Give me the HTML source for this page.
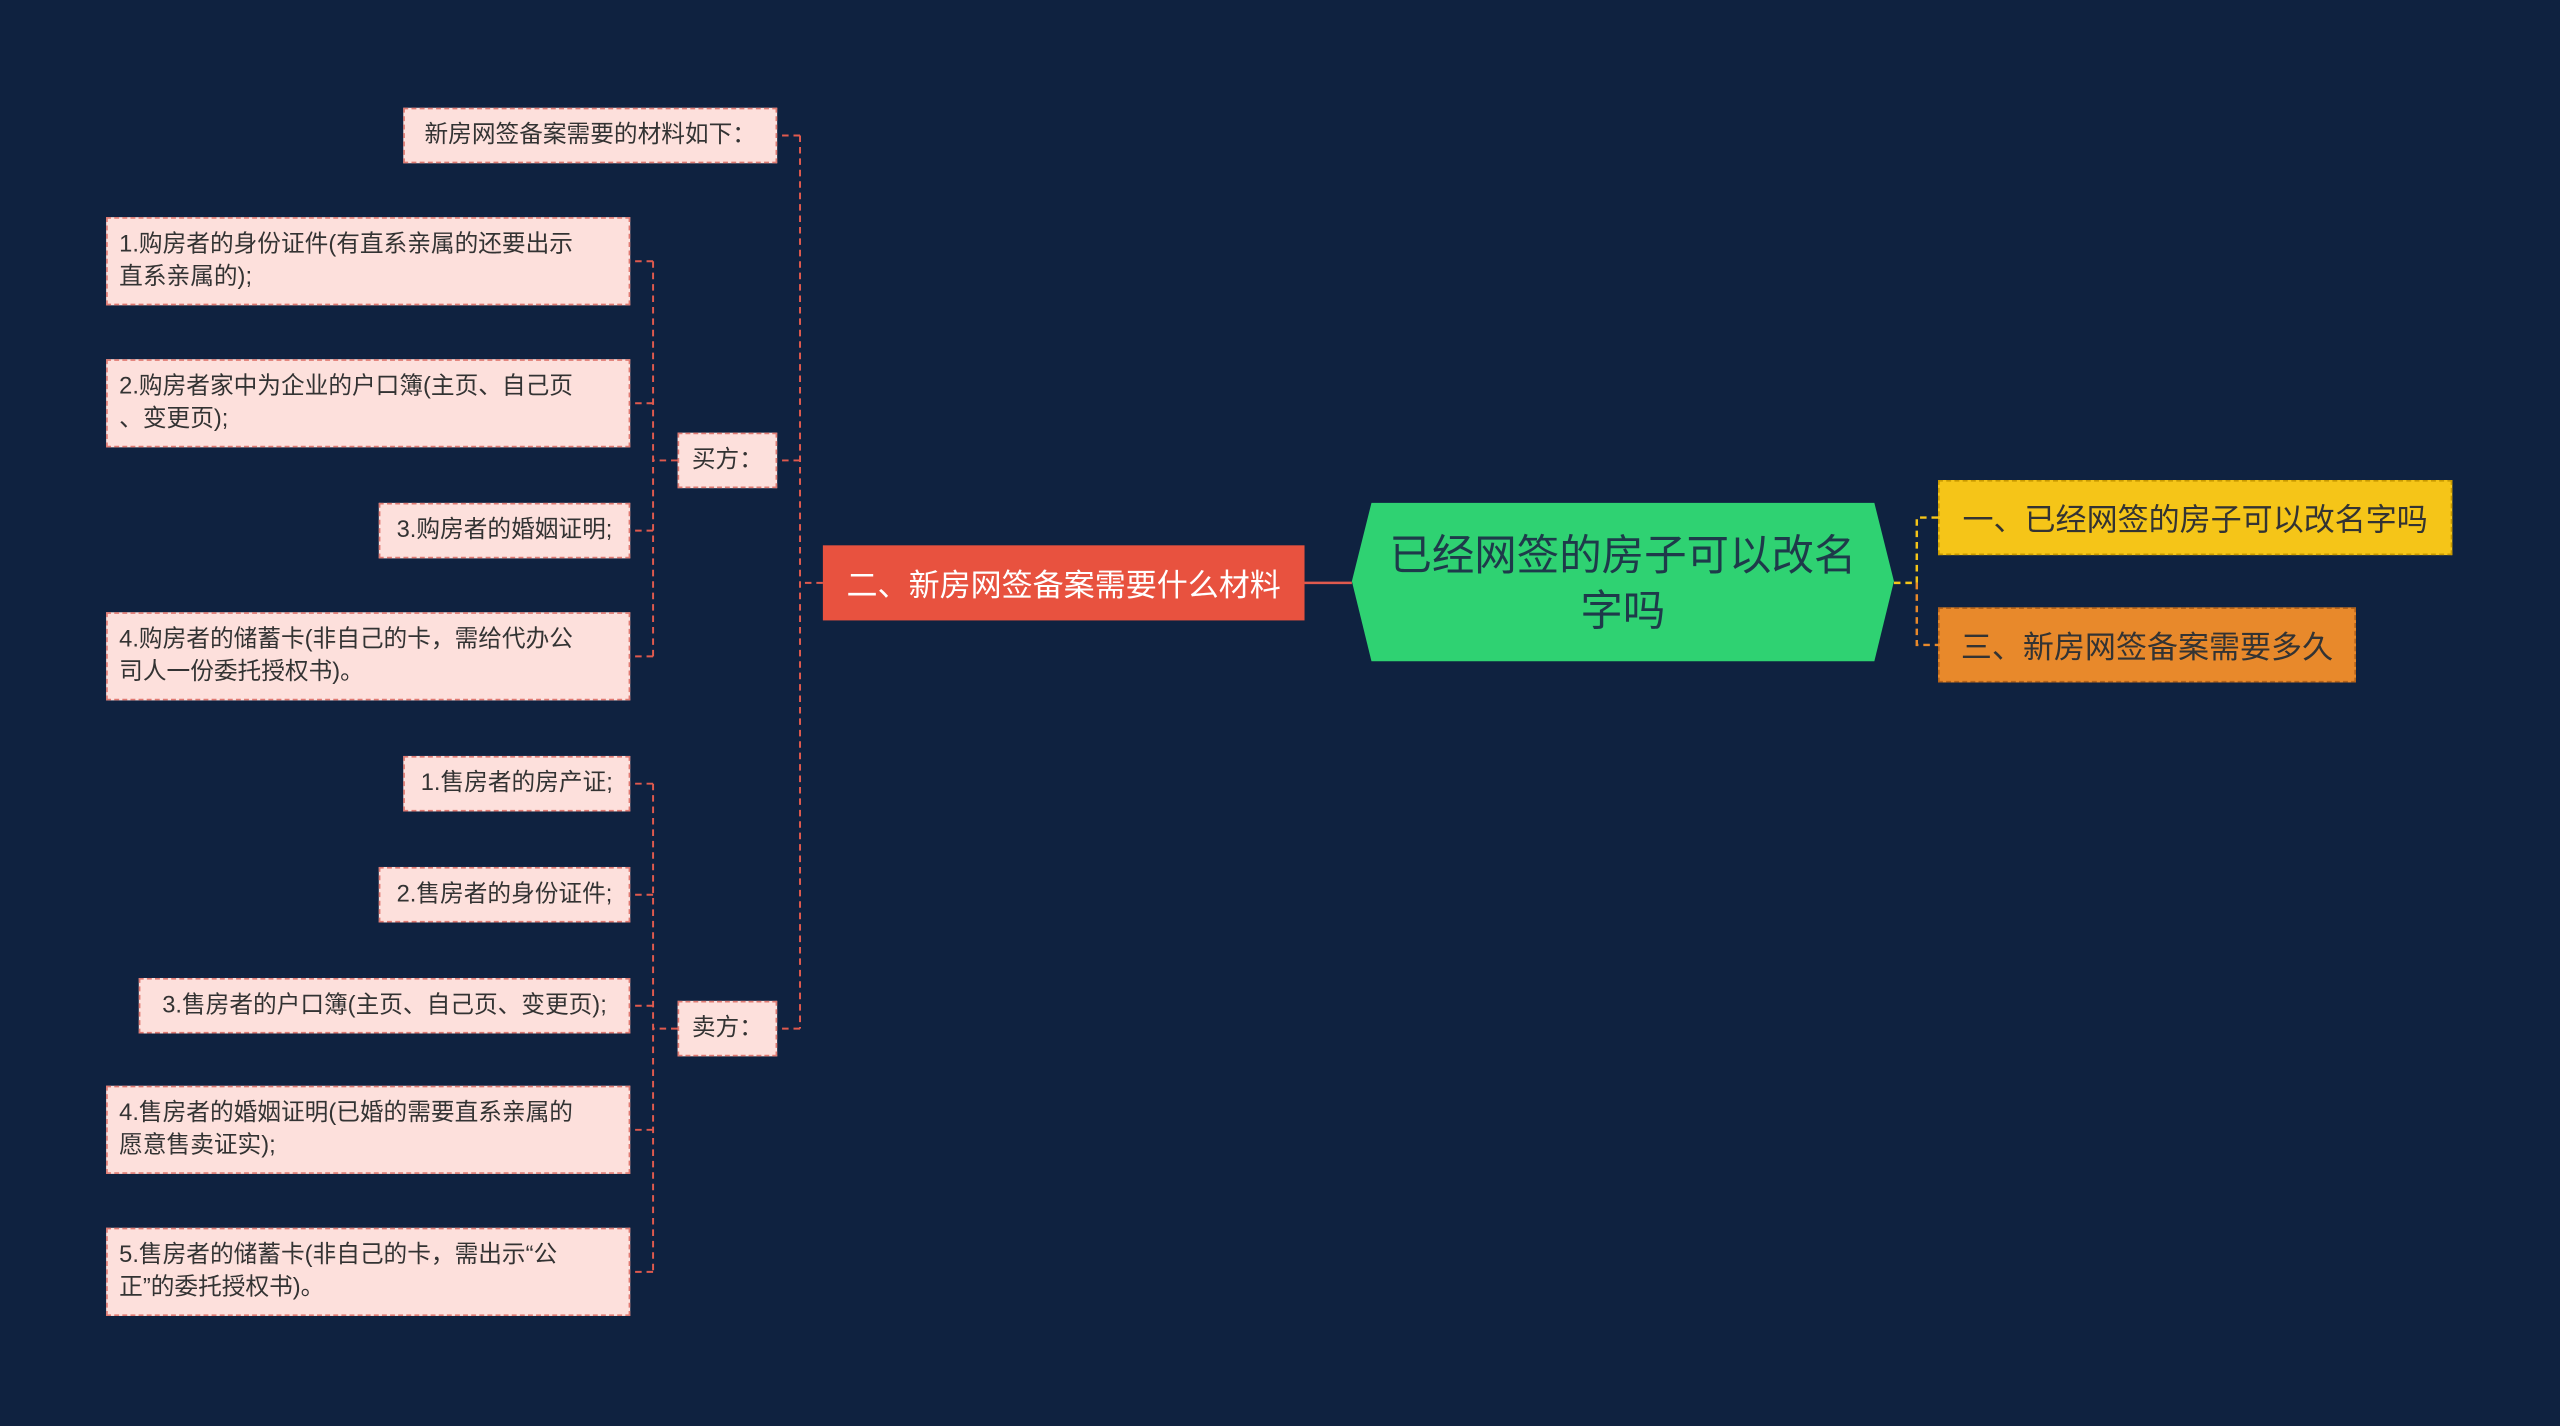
<!DOCTYPE html>
<html><head><meta charset="utf-8">
<style>
html,body{margin:0;padding:0;background:#0f2240;width:2560px;height:1426px;overflow:hidden;}
#w{position:absolute;left:0;top:0;width:1568px;height:873px;transform:scale(1.6327);transform-origin:0 0;font-family:"Liberation Sans","Noto Sans CJK SC",sans-serif;}
.n{position:absolute;box-sizing:border-box;display:flex;align-items:center;white-space:nowrap;}
.p{background:#fde0dc;border:1px dashed #e07a72;color:#333;font-size:14.5px;line-height:20px;padding:0 7px;}
.r{justify-content:center;}
</style></head><body><div id="w">
<svg width="1568" height="873" style="position:absolute;left:0;top:0">
<g fill="none" stroke="#e05a4e" stroke-width="1.2" stroke-dasharray="4,3">
<path d="M504 357H490M490 83V630M490 83H476M490 282H476M490 630H476"/>
<path d="M415 282H400M400 160V402M400 160H386M400 247H386M400 325H386M400 402H386"/>
<path d="M415 630H400M400 480V779M400 480H386M400 548H386M400 616H386M400 692H386M400 779H386"/>
</g>
<path d="M799 357H828" stroke="#e05a4e" stroke-width="1.5"/>
<g fill="none" stroke-width="1.5" stroke-dasharray="4,3">
<path d="M1160 357H1174M1174 357V317H1187" stroke="#f5c518"/>
<path d="M1174 357V395H1187" stroke="#e8892b"/>
</g>
<polygon points="840,308 1148,308 1160,356 1148,405 840,405 828,356" fill="#2fd272"/>
</svg>
<div class="n" style="left:840px;top:308px;width:308px;height:97px;justify-content:center;text-align:center;font-size:26px;line-height:34px;color:#1e3a4a;white-space:normal;">已经网签的房子可以改名<br>字吗</div>
<div class="n" style="left:1187px;top:294px;width:315px;height:46px;background:#f5c518;border:1px dashed #c99a00;font-size:19px;color:#333;justify-content:center;">一、已经网签的房子可以改名字吗</div>
<div class="n" style="left:1187px;top:372px;width:256px;height:46px;background:#e8892b;border:1px dashed #b5631a;font-size:19px;color:#333;justify-content:center;">三、新房网签备案需要多久</div>
<div class="n" style="left:504px;top:334px;width:295px;height:46px;background:#e8523f;font-size:19px;color:#fff;justify-content:center;">二、新房网签备案需要什么材料</div>
<div class="n p r" style="left:247px;top:66px;width:229px;height:34px;">新房网签备案需要的材料如下：</div>
<div class="n p r" style="left:415px;top:265px;width:61px;height:34px;">买方：</div>
<div class="n p r" style="left:415px;top:613px;width:61px;height:34px;">卖方：</div>
<div class="n p" style="left:65px;top:133px;width:321px;height:54px;">1.购房者的身份证件(有直系亲属的还要出示<br>直系亲属的);</div>
<div class="n p" style="left:65px;top:220px;width:321px;height:54px;">2.购房者家中为企业的户口簿(主页、自己页<br>、变更页);</div>
<div class="n p r" style="left:232px;top:308px;width:154px;height:34px;">3.购房者的婚姻证明;</div>
<div class="n p" style="left:65px;top:375px;width:321px;height:54px;">4.购房者的储蓄卡(非自己的卡，需给代办公<br>司人一份委托授权书)。</div>
<div class="n p r" style="left:247px;top:463px;width:139px;height:34px;">1.售房者的房产证;</div>
<div class="n p r" style="left:232px;top:531px;width:154px;height:34px;">2.售房者的身份证件;</div>
<div class="n p r" style="left:85px;top:599px;width:301px;height:34px;">3.售房者的户口簿(主页、自己页、变更页);</div>
<div class="n p" style="left:65px;top:665px;width:321px;height:54px;">4.售房者的婚姻证明(已婚的需要直系亲属的<br>愿意售卖证实);</div>
<div class="n p" style="left:65px;top:752px;width:321px;height:54px;">5.售房者的储蓄卡(非自己的卡，需出示“公<br>正”的委托授权书)。</div>
</div></body></html>
